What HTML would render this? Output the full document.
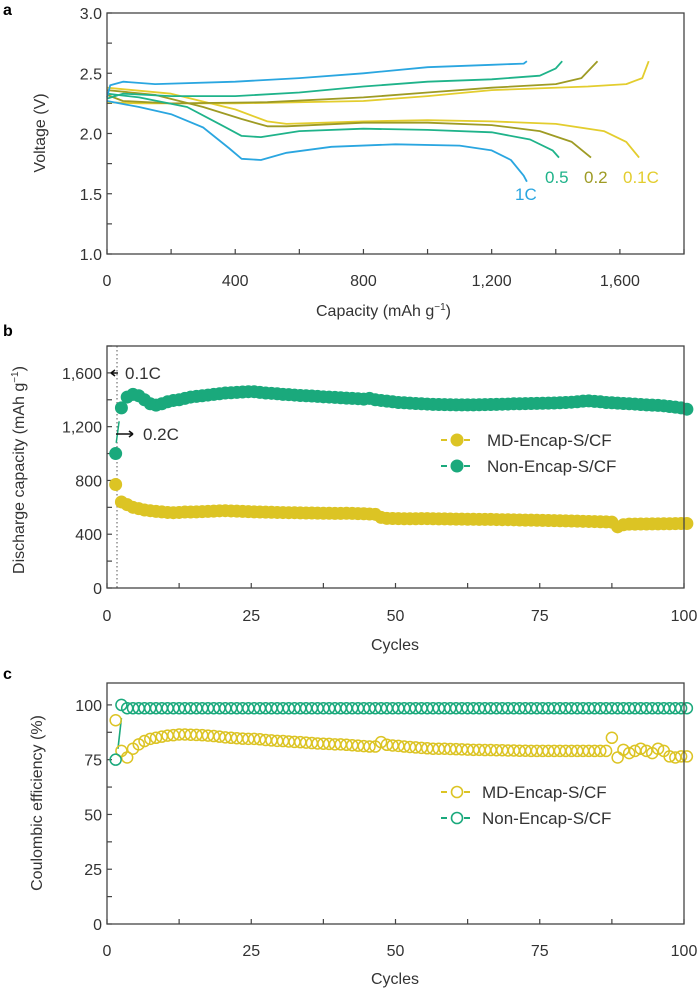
<!DOCTYPE html>
<html><head><meta charset="utf-8"><style>
html,body{margin:0;padding:0;background:#fff;}
svg{display:block;font-family:"Liberation Sans",sans-serif;}
</style></head><body>
<svg id="fig" width="700" height="988" viewBox="0 0 700 988" xmlns="http://www.w3.org/2000/svg"></svg>
<script>
// ---------- Panel a data ----------
const rateLabels = ["1C","0.5","0.2","0.1C"];
const rateColors = ["#2aa6e0","#1fb38a","#9e9b24","#e3cd2e"];
const dis1C_cap = [0,100,200,300,380,420,480,560,700,900,1100,1200,1260,1300,1310];
const dis1C_v   = [2.27,2.22,2.16,2.05,1.88,1.79,1.78,1.84,1.89,1.91,1.90,1.86,1.78,1.65,1.60];
const chg1C_cap = [0,10,50,150,400,600,800,1000,1200,1300,1310];
const chg1C_v   = [2.30,2.40,2.43,2.41,2.43,2.46,2.50,2.55,2.57,2.58,2.60];
const dis05_cap = [0,100,250,350,420,480,600,800,1000,1200,1320,1390,1410];
const dis05_v   = [2.33,2.30,2.22,2.08,1.98,1.97,2.02,2.04,2.03,2.01,1.95,1.86,1.80];
const chg05_cap = [0,50,200,400,600,800,1000,1200,1350,1400,1420];
const chg05_v   = [2.29,2.33,2.31,2.31,2.34,2.39,2.43,2.45,2.48,2.54,2.60];
const dis02_cap = [0,150,300,420,500,560,800,1000,1200,1350,1450,1510];
const dis02_v   = [2.36,2.32,2.22,2.12,2.06,2.06,2.09,2.09,2.07,2.02,1.93,1.80];
const chg02_cap = [0,50,200,500,800,1000,1200,1400,1480,1530];
const chg02_v   = [2.32,2.27,2.25,2.26,2.30,2.34,2.38,2.41,2.46,2.60];
const dis01_cap = [0,200,400,500,560,800,1000,1200,1400,1550,1620,1660];
const dis01_v   = [2.38,2.33,2.20,2.10,2.08,2.10,2.11,2.10,2.08,2.02,1.93,1.80];
const chg01_cap = [0,100,400,800,1000,1200,1500,1620,1670,1690];
const chg01_v   = [2.26,2.25,2.25,2.27,2.31,2.36,2.39,2.41,2.46,2.60];
const aXTicks = [0,400,800,1200,1600];
const aXTickLabels = ["0","400","800","1,200","1,600"];
const aYTicks = [1.0,1.5,2.0,2.5,3.0];
const aYTickLabels = ["1.0","1.5","2.0","2.5","3.0"];

// ---------- Panel b data ----------
const cycleTicks = [0,25,50,75,100];
const bYTicks = [0,400,800,1200,1600];
const bYTickLabels = ["0","400","800","1,200","1,600"];
const nonEncapCap = [1000,1340,1420,1440,1430,1400,1370,1360,1370,1385,
1395,1400,1410,1420,1425,1430,1435,1440,1445,1450,
1452,1455,1458,1460,1460,1455,1450,1448,1445,1440,
1438,1435,1432,1430,1428,1425,1422,1420,1418,1415,
1412,1410,1408,1405,1410,1400,1395,1390,1385,1380,
1378,1375,1372,1370,1368,1366,1365,1364,1363,1362,
1362,1362,1362,1363,1364,1365,1366,1367,1368,1370,
1370,1371,1372,1373,1374,1375,1376,1378,1380,1382,
1385,1390,1392,1388,1385,1380,1378,1375,1372,1370,
1368,1365,1362,1360,1358,1355,1350,1345,1340,1330];
const mdEncapCap = [770,640,620,600,590,580,575,570,566,562,
560,562,565,565,566,568,570,572,574,575,
573,572,570,568,566,565,564,563,562,561,
560,560,559,558,558,557,556,556,555,555,
556,555,553,552,550,548,525,518,517,516,
515,515,515,516,516,515,514,514,513,512,
512,511,511,510,510,510,509,508,508,507,
506,505,505,504,503,502,501,500,499,498,
497,496,495,494,493,492,490,455,470,475,
475,476,476,477,477,478,478,479,480,480];

// ---------- Panel c data ----------
const cYTicks = [0,25,50,75,100];
const mdEncapCE = [93,79,76,80,82,83.5,84.5,85,85.5,86,
86.2,86.5,86.5,86.4,86.3,86.2,86,85.8,85.5,85.2,
85,84.8,84.6,84.5,84.5,84.3,84,83.8,83.6,83.5,
83.3,83.1,83,82.8,82.6,82.4,82.3,82.2,82,82,
81.8,81.6,81.4,81.2,81,81,83,81.8,81.5,81.3,
81,80.8,80.6,80.4,80.2,80,80,80,79.9,79.8,
79.7,79.6,79.5,79.5,79.4,79.4,79.3,79.3,79.2,79.2,
79.1,79.1,79,79,79,79,79,79,79,79,
79,79,79,79,79,79,85,76,79.5,78,
79,80,79,78,80,79,76.5,76,76.5,76.5];
const nonEncapCE = [75,100,98.5,98.5,98.5,98.5,98.5,98.5,98.5,98.5,
98.5,98.5,98.5,98.5,98.5,98.5,98.5,98.5,98.5,98.5,
98.5,98.5,98.5,98.5,98.5,98.5,98.5,98.5,98.5,98.5,
98.5,98.5,98.5,98.5,98.5,98.5,98.5,98.5,98.5,98.5,
98.5,98.5,98.5,98.5,98.5,98.5,98.5,98.5,98.5,98.5,
98.5,98.5,98.5,98.5,98.5,98.5,98.5,98.5,98.5,98.5,
98.5,98.5,98.5,98.5,98.5,98.5,98.5,98.5,98.5,98.5,
98.5,98.5,98.5,98.5,98.5,98.5,98.5,98.5,98.5,98.5,
98.5,98.5,98.5,98.5,98.5,98.5,98.5,98.5,98.5,98.5,
98.5,98.5,98.5,98.5,98.5,98.5,98.5,98.5,98.5,98.5];

const NS="http://www.w3.org/2000/svg";
const svg=document.getElementById('fig');
function el(tag,attrs,parent){const e=document.createElementNS(NS,tag);for(const k in attrs)e.setAttribute(k,attrs[k]);(parent||svg).appendChild(e);return e;}
function txt(s,x,y,attrs,parent){const t=el('text',Object.assign({x:x,y:y,fill:'#333','font-size':16},attrs||{}),parent);t.textContent=s;return t;}
const AX='#444';
const L=107,R=684;

function frame(top,bottom,name){
  const r=el('rect',{x:L,y:top,width:R-L,height:bottom-top,fill:'none',stroke:AX,'stroke-width':1.3});
  
  
}

// ===== Panel a =====
const ax=v=>L+(v/1800)*(R-L);
const ay=v=>254-(v-1.0)/2.0*(254-13);
const ga=el('g',{});


frame(13,254,'panel-a');
const pa=txt('a',3,15,{'font-weight':'bold','font-size':16,fill:'#000'});


for(let v=0;v<=1800;v+=200){el('line',{x1:ax(v),x2:ax(v),y1:254,y2:249,stroke:AX,'stroke-width':1.2},ga);}
aXTicks.forEach((v,i)=>{const t=txt(aXTickLabels[i],ax(v),286,{'text-anchor':'middle'},ga);

});
for(let v=1.0;v<=3.0001;v+=0.25){el('line',{x1:L,x2:L+5,y1:ay(v),y2:ay(v),stroke:AX,'stroke-width':1.2},ga);}
aYTicks.forEach((v,i)=>{const t=txt(aYTickLabels[i],L-5,ay(v)+6,{'text-anchor':'end'},ga);

});
const axt=txt('Capacity (mAh g',316,316,{'text-anchor':'start'},ga);


const sup1=el('tspan',{dy:-6,'font-size':10},axt);sup1.textContent='−1';
const sup1b=el('tspan',{dy:6},axt);sup1b.textContent=')';
const ayt=txt('Voltage (V)',0,0,{'text-anchor':'middle',transform:'translate(45,133) rotate(-90)'},ga);


const curves=[[dis01_cap,dis01_v,3],[chg01_cap,chg01_v,3],[dis02_cap,dis02_v,2],[chg02_cap,chg02_v,2],[dis05_cap,dis05_v,1],[chg05_cap,chg05_v,1],[dis1C_cap,dis1C_v,0],[chg1C_cap,chg1C_v,0]];
curves.forEach(c=>{
  let d='';c[0].forEach((x,i)=>{d+=(i?'L':'M')+ax(x).toFixed(1)+','+ay(c[1][i]).toFixed(1);});
  const p=el('path',{d:d,fill:'none',stroke:rateColors[c[2]],'stroke-width':1.8,'stroke-linejoin':'round'},ga);
  
  
});
const rl=[[rateLabels[0],515,275-75],[rateLabels[1],545,183],[rateLabels[2],584,183],[rateLabels[3],623,183]];
rl.forEach((r,i)=>{const t=txt(r[0],r[1],r[2],{fill:rateColors[i],'font-size':17},ga);

});

// ===== Panel b =====
const bx=c=>L+(c/100)*(R-L);
const by=v=>588-v/1800*(588-346);
const gb=el('g',{});


frame(346,588,'panel-b');
const pb=txt('b',3,336,{'font-weight':'bold','font-size':16,fill:'#000'});


for(let c=0;c<=100;c+=12.5){el('line',{x1:bx(c),x2:bx(c),y1:588,y2:583,stroke:AX,'stroke-width':1.2},gb);}
cycleTicks.forEach(c=>{const t=txt(String(c),bx(c),621,{'text-anchor':'middle'},gb);

});
for(let v=0;v<=1800;v+=200){el('line',{x1:L,x2:L+5,y1:by(v),y2:by(v),stroke:AX,'stroke-width':1.2},gb);}
bYTicks.forEach((v,i)=>{const t=txt(bYTickLabels[i],L-5,by(v)+6,{'text-anchor':'end'},gb);

});
const bxt=txt('Cycles',395,650,{'text-anchor':'middle'},gb);


const byt=txt('Discharge capacity (mAh g',0,0,{'text-anchor':'middle',transform:'translate(24,470) rotate(-90)'},gb);


const s2=el('tspan',{dy:-6,'font-size':10},byt);s2.textContent='−1';
const s2b=el('tspan',{dy:6},byt);s2b.textContent=')';
el('line',{x1:117,x2:117,y1:346,y2:588,stroke:'#555','stroke-width':1,'stroke-dasharray':'1.5,2.5'},gb);
el('line',{x1:bx(1.6),y1:by(nonEncapCap[0]+80),x2:bx(2.1),y2:by(nonEncapCap[1]-100),stroke:'#1aa97c','stroke-width':1.5},gb);
function drawFilled(arr,color,name){arr.forEach((v,i)=>{const c=el('circle',{cx:bx(i+1.5),cy:by(v),r:6.5,fill:color},gb);

});}
drawFilled(mdEncapCap,'#dcc424','md-encap-point');
drawFilled(nonEncapCap,'#1aa97c','non-encap-point');
el('path',{d:'M118,388 L111,388 M111,388 l4,-3 M111,388 l4,3',stroke:'#111','stroke-width':1.6,fill:'none',transform:'translate(0,-15)'},gb);
const a1=txt('0.1C',125,379,{'font-size':17},gb);


el('path',{d:'M116,469 L133,469 M133,469 l-4,-3 M133,469 l-4,3',stroke:'#111','stroke-width':1.6,fill:'none',transform:'translate(0,-35)'},gb);
const a2=txt('0.2C',143,440,{'font-size':17},gb);


function legend(g,y,color,label,filled,tx){
  const gg=el('g',{},g);
  
  
  el('line',{x1:441,x2:470,y1:y,y2:y,stroke:color,'stroke-width':2,'stroke-dasharray':'6,17'},gg);
  el('circle',{cx:457,cy:y,r:filled?6.5:5.5,fill:filled?color:'#fff',stroke:color,'stroke-width':filled?0:1.6},gg);
  txt(label,tx,y+6,{'font-size':17},gg);
}
legend(gb,440,'#dcc424','MD-Encap-S/CF',true,487);
legend(gb,466,'#1aa97c','Non-Encap-S/CF',true,487);

// ===== Panel c =====
const cy=v=>924-v/110*(924-683);
const gc=el('g',{});


frame(683,924,'panel-c');
const pc=txt('c',3,679,{'font-weight':'bold','font-size':16,fill:'#000'});


for(let c=0;c<=100;c+=12.5){el('line',{x1:bx(c),x2:bx(c),y1:924,y2:919,stroke:AX,'stroke-width':1.2},gc);}
cycleTicks.forEach(c=>{const t=txt(String(c),bx(c),956,{'text-anchor':'middle'},gc);

});
for(let v=0;v<=100;v+=12.5){el('line',{x1:L,x2:L+5,y1:cy(v),y2:cy(v),stroke:AX,'stroke-width':1.2},gc);}
cYTicks.forEach(v=>{const t=txt(String(v),L-5,cy(v)+6,{'text-anchor':'end'},gc);

});
const cxt=txt('Cycles',395,984,{'text-anchor':'middle'},gc);


const cyt=txt('Coulombic efficiency (%)',0,0,{'text-anchor':'middle',transform:'translate(42,803) rotate(-90)'},gc);


el('line',{x1:bx(1.9),y1:cy(nonEncapCE[0]+5),x2:bx(2.5),y2:cy(nonEncapCE[1]-6),stroke:'#1aa97c','stroke-width':1.6},gc);
function drawHollow(arr,color,name){arr.forEach((v,i)=>{const c=el('circle',{cx:bx(i+1.5),cy:cy(v),r:5.5,fill:'none',stroke:color,'stroke-width':1.5},gc);

});}
drawHollow(mdEncapCE,'#dcc424','md-encap-ce-point');
drawHollow(nonEncapCE,'#1aa97c','non-encap-ce-point');
legend(gc,792,'#dcc424','MD-Encap-S/CF',false,482);
legend(gc,818,'#1aa97c','Non-Encap-S/CF',false,482);
</script>
</body></html>
